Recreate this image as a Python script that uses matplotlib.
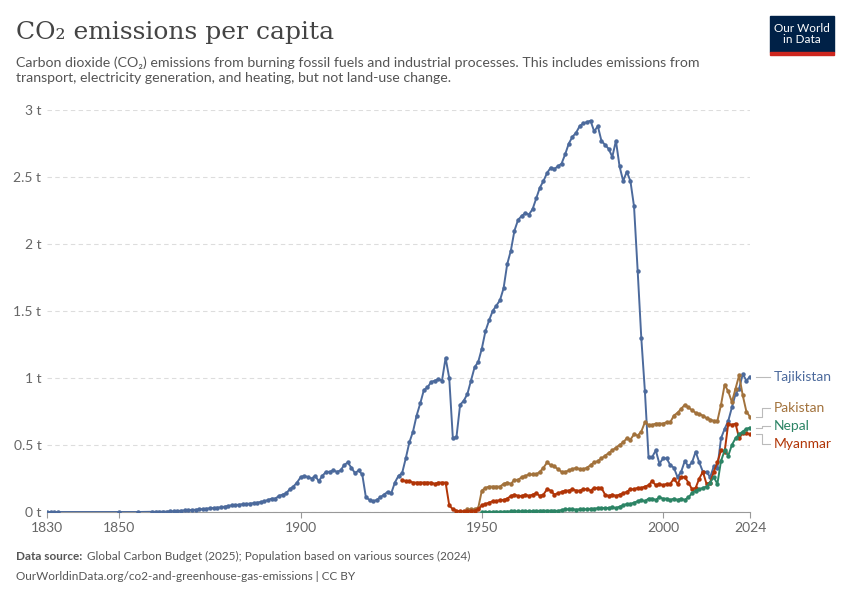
import matplotlib.pyplot as plt
import numpy as np

plt.rcParams['font.family'] = ['Lato', 'DejaVu Sans']

# Tajikistan
taj_years = [1830, 1831, 1832, 1833, 1850, 1855] + list(range(1859, 2025))
taj_vals = [0, 0, 0, 0, 0, 0,
            # 1859-1869
            0.002, 0.002, 0.002, 0.003, 0.003, 0.004, 0.005, 0.008, 0.01, 0.012, 0.013,
            # 1870s
            0.015, 0.017, 0.02, 0.022, 0.025, 0.028, 0.03, 0.033, 0.035, 0.04,
            # 1880s
            0.045, 0.05, 0.052, 0.055, 0.058, 0.06, 0.063, 0.066, 0.07, 0.075,
            # 1890s
            0.08, 0.09, 0.1, 0.1, 0.12, 0.13, 0.14, 0.17, 0.19, 0.22,
            # 1900s
            0.26, 0.27, 0.26, 0.25, 0.27, 0.23, 0.27, 0.30, 0.30, 0.31,
            # 1910s
            0.30, 0.31, 0.35, 0.37, 0.33, 0.29, 0.31, 0.28, 0.11, 0.09,
            # 1920s
            0.08, 0.09, 0.11, 0.13, 0.15, 0.14, 0.22, 0.27, 0.29, 0.40,
            # 1930s
            0.52, 0.60, 0.72, 0.81, 0.91, 0.93, 0.97, 0.98, 0.99, 0.98,
            # 1940s
            1.15, 1.00, 0.55, 0.56, 0.80, 0.83, 0.88, 0.98, 1.08, 1.12,
            # 1950s
            1.22, 1.35, 1.43, 1.50, 1.54, 1.58, 1.67, 1.85, 1.95, 2.10,
            # 1960s
            2.18, 2.21, 2.23, 2.22, 2.26, 2.34, 2.42, 2.47, 2.53, 2.57,
            # 1970s
            2.56, 2.58, 2.60, 2.67, 2.75, 2.80, 2.83, 2.88, 2.90, 2.91,
            # 1980s
            2.92, 2.84, 2.88, 2.77, 2.74, 2.71, 2.65, 2.77, 2.58, 2.47,
            # 1990s
            2.54, 2.47, 2.28, 1.80, 1.30, 0.90, 0.41, 0.41, 0.46, 0.36,
            # 2000s
            0.40, 0.40, 0.35, 0.33, 0.26, 0.30, 0.38, 0.34, 0.37, 0.45,
            # 2010s
            0.37, 0.30, 0.30, 0.26, 0.34, 0.33, 0.55, 0.62, 0.68, 0.78,
            # 2020s
            0.88, 0.92, 1.03, 0.98, 1.01]

# Pakistan
pak_years = list(range(1946, 2025))
pak_vals = [0.02, 0.02, 0.02, 0.03,
            0.16, 0.18, 0.19, 0.19, 0.19, 0.19, 0.21, 0.22, 0.21, 0.24,
            0.24, 0.26, 0.27, 0.28, 0.28, 0.28, 0.30, 0.33, 0.37, 0.35,
            0.34, 0.32, 0.30, 0.30, 0.31, 0.32, 0.33, 0.32, 0.32, 0.33,
            0.35, 0.37, 0.38, 0.40, 0.42, 0.44, 0.46, 0.48, 0.50, 0.52,
            0.55, 0.54, 0.58, 0.57, 0.60, 0.67, 0.65, 0.65, 0.66, 0.66,
            0.66, 0.67, 0.67, 0.72, 0.74, 0.77, 0.80, 0.78, 0.76, 0.74,
            0.73, 0.72, 0.70, 0.69, 0.68, 0.68, 0.80, 0.95, 0.90, 0.82,
            0.92, 1.02, 0.87, 0.75, 0.71]

# Myanmar
mya_years = list(range(1928, 2025))
mya_vals = [0.24, 0.23,
            0.23, 0.22, 0.22, 0.22, 0.22, 0.22, 0.22, 0.21, 0.22, 0.22,
            0.22, 0.05, 0.02, 0.01, 0.005, 0.005, 0.005, 0.01, 0.01, 0.02,
            0.05, 0.06, 0.07, 0.08, 0.08, 0.09, 0.09, 0.10, 0.12, 0.13,
            0.12, 0.12, 0.13, 0.12, 0.13, 0.14, 0.12, 0.13, 0.17, 0.16,
            0.13, 0.14, 0.15, 0.16, 0.16, 0.17, 0.16, 0.16, 0.17, 0.17,
            0.16, 0.18, 0.18, 0.18, 0.13, 0.12, 0.13, 0.12, 0.13, 0.14,
            0.15, 0.17, 0.17, 0.18, 0.18, 0.19, 0.20, 0.23, 0.20, 0.21,
            0.20, 0.21, 0.21, 0.25, 0.21, 0.26, 0.26, 0.22, 0.17, 0.18,
            0.25, 0.30, 0.21, 0.22, 0.30, 0.37, 0.46, 0.45, 0.66, 0.65,
            0.66, 0.55, 0.59, 0.59, 0.58]

# Nepal
nep_years = list(range(1950, 2025))
nep_vals = [0.0, 0.0, 0.001, 0.001, 0.002, 0.002, 0.003, 0.003, 0.004, 0.004,
            0.005, 0.005, 0.006, 0.006, 0.007, 0.008, 0.009, 0.01, 0.01, 0.01,
            0.01, 0.008, 0.015, 0.02, 0.02, 0.02, 0.018, 0.02, 0.02, 0.02,
            0.025, 0.025, 0.028, 0.03, 0.03, 0.03, 0.035, 0.03, 0.04, 0.05,
            0.06, 0.06, 0.07, 0.08, 0.09, 0.08, 0.10, 0.10, 0.09, 0.11,
            0.10, 0.10, 0.09, 0.10, 0.09, 0.10, 0.09, 0.11, 0.14, 0.16,
            0.17, 0.18, 0.19, 0.22, 0.26, 0.21, 0.38, 0.46, 0.42, 0.50,
            0.55, 0.58, 0.60, 0.62, 0.63]

series = [
    ("Tajikistan", taj_years, taj_vals, "#4c6a9c"),
    ("Pakistan", pak_years, pak_vals, "#a2723c"),
    ("Myanmar", mya_years, mya_vals, "#b13507"),
    ("Nepal", nep_years, nep_vals, "#2c8465"),
]
label_y = {"Tajikistan": 377, "Pakistan": 408, "Nepal": 426, "Myanmar": 444}

fig = plt.figure(figsize=(8.5, 6), dpi=100)
ax = fig.add_axes([47 / 850, 1 - 512 / 600, (750 - 47) / 850, (512 - 110) / 600])
for name, xs, ys, c in series:
    ax.plot(xs, ys, color=c, lw=1.4, marker='o', ms=2.2, zorder=3)

ax.set_xlim(1830, 2024)
ax.set_ylim(0, 3)
ax.set_yticks([0, 0.5, 1, 1.5, 2, 2.5, 3])
ax.set_yticklabels(["0 t", "0.5 t", "1 t", "1.5 t", "2 t", "2.5 t", "3 t"])
ax.set_xticks([1830, 1850, 1900, 1950, 2000, 2024])
ax.tick_params(axis='y', length=0, labelsize=10, colors='#666666', pad=4)
ax.tick_params(axis='x', length=4, labelsize=10, colors='#666666', color='#999999')
ax.grid(axis='y', color='#dddddd', ls=(0, (4, 3)), lw=0.8)
for s in ['top', 'right', 'left']:
    ax.spines[s].set_visible(False)
ax.spines['bottom'].set_color('#999999')
ax.set_axisbelow(True)

# right-side labels with connector lines
for name, xs, ys, c in series:
    ty = 1 - label_y[name] / 600
    ey = ax.transData.transform((xs[-1], ys[-1]))
    ey = fig.transFigure.inverted().transform(ey)[1]
    x0, x1, x2 = 756 / 850, 762 / 850, 770 / 850
    fig.add_artist(plt.Line2D([x0, x1, x1, x2], [ey, ey, ty, ty], color='#bbbbbb', lw=0.8))
    fig.text(774 / 850, ty, name, color=c, fontsize=10, va='center')

fig.text(16 / 850, 1 - 32 / 600, "CO₂ emissions per capita", fontsize=18,
         family=['DejaVu Serif'], color='#444444', va='center')
fig.text(16 / 850, 1 - 70 / 600,
         "Carbon dioxide (CO₂) emissions from burning fossil fuels and industrial processes. This includes emissions from\n"
         "transport, electricity generation, and heating, but not land-use change.",
         fontsize=10.2, color='#555555', va='center', linespacing=1.35)
fig.text(16 / 850, 1 - 556 / 600, "Data source:", fontsize=8.5, color='#555555', weight='bold', va='center')
fig.text(87 / 850, 1 - 556 / 600, "Global Carbon Budget (2025); Population based on various sources (2024)",
         fontsize=8.5, color='#555555', va='center')
fig.text(16 / 850, 1 - 577 / 600, "OurWorldinData.org/co2-and-greenhouse-gas-emissions | CC BY",
         fontsize=8.5, color='#555555', va='center')

# logo
lx, ly, lw_, lh = 770 / 850, 1 - 52 / 600, 64 / 850, 36 / 600
fig.add_artist(plt.Rectangle((lx, ly), lw_, lh, color='#002147', transform=fig.transFigure))
fig.add_artist(plt.Rectangle((lx, ly - 3 / 600), lw_, 3 / 600, color='#ce261e', transform=fig.transFigure))
fig.text(lx + lw_ / 2, ly + lh / 2, "Our World\nin Data", color='white', fontsize=8.5,
         ha='center', va='center', linespacing=1.0)

fig.savefig("out.png", dpi=100)
